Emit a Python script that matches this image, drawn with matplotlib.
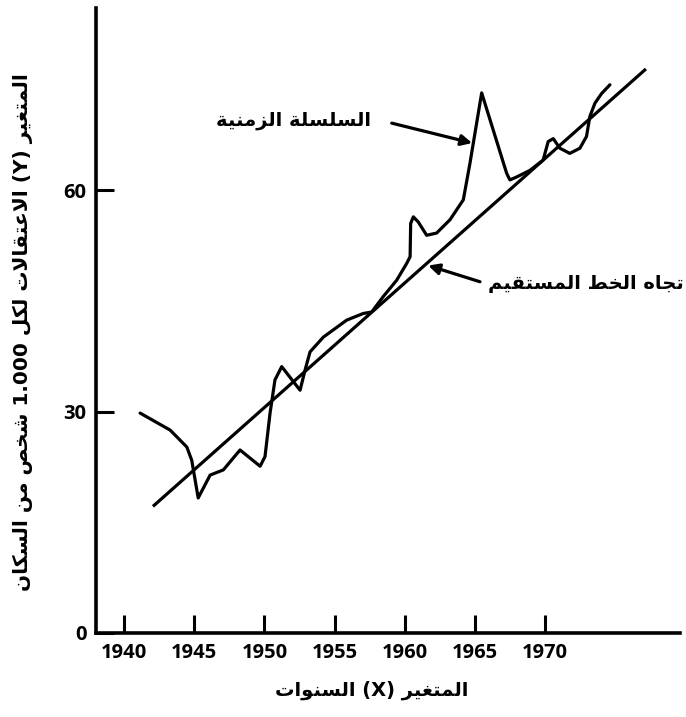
import matplotlib
matplotlib.use("Agg")
import matplotlib.pyplot as plt

# --- data ---
years = [1941.14, 1943.28, 1944.47, 1944.82, 1945.28, 1946.13, 1947.07, 1948.26,
         1949.69, 1950.04, 1950.40, 1950.75, 1951.23, 1952.54, 1952.89, 1953.25,
         1954.20, 1955.86, 1957.04, 1957.64, 1958.47, 1959.42, 1960.14, 1960.38,
         1960.42, 1960.61, 1960.96, 1961.56, 1962.27, 1963.22, 1964.17, 1964.64,
         1965.48, 1967.26, 1967.49, 1967.97, 1968.92, 1969.86, 1970.22, 1970.58,
         1971.05, 1971.76, 1972.48, 1972.95, 1973.19, 1973.55, 1974.02, 1974.62]
arrests = [29.8, 27.5, 25.2, 23.4, 18.3, 21.4, 22.1, 24.8,
           22.6, 23.9, 29.8, 34.3, 36.1, 32.9, 35.6, 38.1,
           40.1, 42.4, 43.3, 43.5, 45.6, 47.8, 50.1, 51.0,
           55.5, 56.4, 55.7, 53.9, 54.2, 56.0, 58.7, 63.6,
           73.2, 62.3, 61.4, 61.8, 62.7, 64.1, 66.6, 67.0,
           65.7, 65.0, 65.7, 67.3, 70.0, 71.8, 73.1, 74.3]
trend_x = [1942.14, 1977.1]
trend_y = [17.3, 76.3]

x_ticks = [1940, 1945, 1950, 1955, 1960, 1965, 1970]
y_ticks = [0, 30, 60]

label_series = "السلسلة الزمنية"
label_trend = "تجاه الخط المستقيم"
xlabel = "المتغير (X) السنوات"
ylabel = "المتغير (Y) الاعتقالات لكل 1.000 شخص من السكان"

# --- simple arabic shaping (matplotlib has no complex text layout) ---
# letter: (isolated, final, initial, medial); two entries = joins on the right only
FORMS = {
    'ا': (0xFE8D, 0xFE8E), 'ب': (0xFE8F, 0xFE90, 0xFE91, 0xFE92),
    'ة': (0xFE93, 0xFE94), 'ت': (0xFE95, 0xFE96, 0xFE97, 0xFE98),
    'ج': (0xFE9D, 0xFE9E, 0xFE9F, 0xFEA0), 'خ': (0xFEA5, 0xFEA6, 0xFEA7, 0xFEA8),
    'د': (0xFEA9, 0xFEAA), 'ر': (0xFEAD, 0xFEAE), 'ز': (0xFEAF, 0xFEB0),
    'س': (0xFEB1, 0xFEB2, 0xFEB3, 0xFEB4), 'ش': (0xFEB5, 0xFEB6, 0xFEB7, 0xFEB8),
    'ص': (0xFEB9, 0xFEBA, 0xFEBB, 0xFEBC), 'ط': (0xFEC1, 0xFEC2, 0xFEC3, 0xFEC4),
    'ع': (0xFEC9, 0xFECA, 0xFECB, 0xFECC), 'غ': (0xFECD, 0xFECE, 0xFECF, 0xFED0),
    'ق': (0xFED5, 0xFED6, 0xFED7, 0xFED8), 'ك': (0xFED9, 0xFEDA, 0xFEDB, 0xFEDC),
    'ل': (0xFEDD, 0xFEDE, 0xFEDF, 0xFEE0), 'م': (0xFEE1, 0xFEE2, 0xFEE3, 0xFEE4),
    'ن': (0xFEE5, 0xFEE6, 0xFEE7, 0xFEE8), 'ه': (0xFEE9, 0xFEEA, 0xFEEB, 0xFEEC),
    'و': (0xFEED, 0xFEEE), 'ي': (0xFEF1, 0xFEF2, 0xFEF3, 0xFEF4),
}


def shape_word(w):
    # merge lam + alef into a ligature token first
    chars = []
    i = 0
    while i < len(w):
        if w[i] == 'ل' and i + 1 < len(w) and w[i + 1] == 'ا':
            chars.append('LA')
            i += 2
        else:
            chars.append(w[i])
            i += 1
    out = []
    for i, c in enumerate(chars):
        prev = chars[i - 1] if i > 0 else None
        nxt = chars[i + 1] if i + 1 < len(chars) else None
        joins_prev = prev is not None and prev in FORMS and len(FORMS[prev]) == 4
        if c == 'LA':
            out.append(chr(0xFEFC if joins_prev else 0xFEFB))
            continue
        f = FORMS[c]
        joins_next = len(f) == 4 and nxt is not None and (nxt in FORMS or nxt == 'LA')
        if joins_prev and joins_next:
            out.append(chr(f[3]))
        elif joins_prev:
            out.append(chr(f[1]))
        elif joins_next:
            out.append(chr(f[2]))
        else:
            out.append(chr(f[0]))
    return ''.join(reversed(out))


def ar(text):
    words = []
    for tok in text.split(' '):
        if any(ch in FORMS for ch in tok):
            words.append(shape_word(tok))
        else:
            words.append(tok)
    return ' '.join(reversed(words))


AR_FONT = ['DejaVu Sans']

fig = plt.figure(figsize=(6.86, 7.17), dpi=100)
ax = fig.add_axes([0.140, 0.1172, 0.851, 0.8716])

ax.plot(years, arrests, color='k', lw=2.3, solid_joinstyle='round', solid_capstyle='round')
ax.plot(trend_x, trend_y, color='k', lw=2.3)

ax.set_xlim(1938.0, 1979.6)
ax.set_ylim(0, 84.7)
ax.set_xticks(x_ticks)
ax.set_yticks(y_ticks)
ax.tick_params(direction='in', length=13, width=2.2, labelsize=14.5, pad=7)
for lab in ax.get_xticklabels() + ax.get_yticklabels():
    lab.set_fontfamily('Open Sans')
    lab.set_fontweight('bold')

for s in ['top', 'right']:
    ax.spines[s].set_visible(False)
for s in ['left', 'bottom']:
    ax.spines[s].set_linewidth(2.6)

ax.set_xlabel(ar(xlabel), family=AR_FONT, fontweight='bold', fontsize=14, labelpad=13)
ax.xaxis.label.set_x(0.473)
ax.set_ylabel(ar(ylabel), family=AR_FONT, fontweight='bold', fontsize=14.5, labelpad=22)
ax.yaxis.label.set_y(0.482)

# annotations with arrows
ax.annotate('', xy=(1964.8, 66.4), xytext=(1959.07, 69.1),
            arrowprops=dict(arrowstyle='-|>', lw=2.3, color='k', mutation_scale=16,
                            shrinkA=0, shrinkB=0))
ax.text(1957.6, 69.5, ar(label_series), family=AR_FONT, fontweight='bold',
        fontsize=14, ha='right', va='center')

ax.annotate('', xy=(1961.67, 49.8), xytext=(1965.36, 47.6),
            arrowprops=dict(arrowstyle='-|>', lw=2.3, color='k', mutation_scale=16,
                            shrinkA=0, shrinkB=0))
ax.text(1979.85, 47.4, ar(label_trend), family=AR_FONT, fontweight='bold',
        fontsize=14, ha='right', va='center')

fig.savefig('out.png', dpi=100)
